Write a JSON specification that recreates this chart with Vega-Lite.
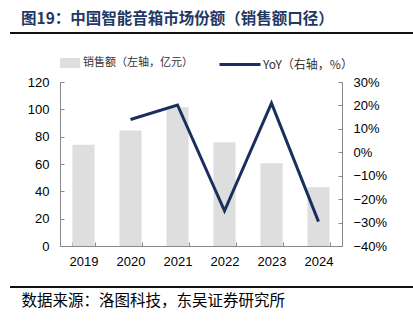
{
  "$schema": "https://vega.github.io/schema/vega-lite/v6.json",
  "width": 282,
  "height": 164,
  "autosize": "none",
  "padding": {"left": 60, "top": 82, "right": 71, "bottom": 78},
  "background": "white",
  "config": {"view": {"stroke": null}},
  "title": {
    "text": "图19：中国智能音箱市场份额（销售额口径）",
    "anchor": "start",
    "frame": "group",
    "dx": -39,
    "offset": 4,
    "font": "Noto Sans CJK SC",
    "fontSize": 15.5,
    "fontWeight": "bold",
    "color": "#1F3864"
  },
  "data": {
    "values": [
      {"year": "2019", "sales": 74, "yoy": null},
      {"year": "2020", "sales": 84.5, "yoy": 0.14},
      {"year": "2021", "sales": 101.5, "yoy": 0.202},
      {"year": "2022", "sales": 76, "yoy": -0.25},
      {"year": "2023", "sales": 60.5, "yoy": 0.21},
      {"year": "2024", "sales": 43, "yoy": -0.296}
    ]
  },
  "layer": [
    {
      "layer": [
        {
          "mark": {"type": "bar", "color": "#DEDEDE"},
          "encoding": {
            "x": {
              "field": "year",
              "type": "ordinal",
              "scale": {"paddingInner": 0.53, "paddingOuter": 0.265},
              "axis": {
                "labelFont": "Liberation Sans",
                "labelFontSize": 13,
                "labelColor": "black",
                "labelAngle": 0,
                "domainColor": "#888888",
                "tickColor": "#888888",
                "tickBand": "extent",
                "tickSize": -4,
                "labelPadding": 13,
                "title": "数据来源：洛图科技，东吴证券研究所",
                "titleAnchor": "start",
                "titleAlign": "left",
                "titleX": -39,
                "titleY": 54,
                "titleBaseline": "middle",
                "titleFont": "Noto Sans CJK SC",
                "titleFontSize": 15.5,
                "titleFontWeight": "normal",
                "titleColor": "black"
              }
            },
            "y": {
              "field": "sales",
              "type": "quantitative",
              "scale": {"domain": [0, 120]},
              "axis": {
                "values": [0, 20, 40, 60, 80, 100, 120],
                "title": null,
                "grid": false,
                "labelFont": "Liberation Sans",
                "labelFontSize": 13,
                "labelColor": "black",
                "domainColor": "#888888",
                "tickColor": "#888888",
                "tickSize": -4,
                "labelPadding": 15
              }
            },
            "fill": {
              "datum": "销售额（左轴，亿元）",
              "scale": {"range": ["#DEDEDE"]},
              "legend": {
                "orient": "none",
                "legendX": 0,
                "legendY": -29,
                "title": null,
                "symbolType": "M-1,-0.5H1V0.5H-1Z",
                "symbolSize": 400,
                "symbolStrokeWidth": 0,
                "labelFont": "Noto Sans CJK SC",
                "labelFontSize": 11,
                "labelColor": "#333333",
                "labelOffset": 3
              }
            }
          }
        },
        {
          "mark": {"type": "line", "color": "#1B2F5F", "strokeWidth": 3},
          "encoding": {
            "x": {"field": "year", "type": "ordinal"},
            "y": {
              "field": "yoy",
              "type": "quantitative",
              "scale": {"domain": [-0.4, 0.3]},
              "axis": {
                "orient": "right",
                "values": [-0.4, -0.3, -0.2, -0.1, 0, 0.1, 0.2, 0.3],
                "format": ".0%",
                "title": null,
                "grid": false,
                "labelFont": "Liberation Sans",
                "labelFontSize": 13,
                "labelColor": "black",
                "domainColor": "#888888",
                "tickColor": "#888888",
                "tickSize": -4,
                "labelPadding": 15
              }
            },
            "stroke": {
              "datum": "YoY（右轴，%）",
              "scale": {"range": ["#1B2F5F"]},
              "legend": {
                "orient": "none",
                "legendX": 158,
                "legendY": -39.5,
                "title": null,
                "symbolType": "stroke",
                "symbolSize": 1681,
                "symbolStrokeWidth": 3,
                "labelFont": "Noto Sans CJK SC",
                "labelFontSize": 12,
                "labelColor": "#333333",
                "labelOffset": 1
              }
            }
          }
        }
      ],
      "resolve": {"scale": {"y": "independent", "fill": "independent", "stroke": "independent"}}
    },
    {
      "mark": {"type": "rule", "color": "#111111", "strokeWidth": 2, "clip": false},
      "encoding": {
        "x": {"datum": -0.177, "scale": {"domain": [0, 1]}, "axis": null},
        "x2": {"datum": 1.26},
        "y": {"datum": 1.299, "scale": {"domain": [0, 1]}, "axis": null}
      }
    },
    {
      "mark": {"type": "rule", "color": "#111111", "strokeWidth": 2, "clip": false},
      "encoding": {
        "x": {"datum": -0.177, "scale": {"domain": [0, 1]}, "axis": null},
        "x2": {"datum": 1.26},
        "y": {"datum": -0.25, "scale": {"domain": [0, 1]}, "axis": null}
      }
    }
  ],
  "resolve": {"scale": {"x": "independent", "y": "independent"}}
}
